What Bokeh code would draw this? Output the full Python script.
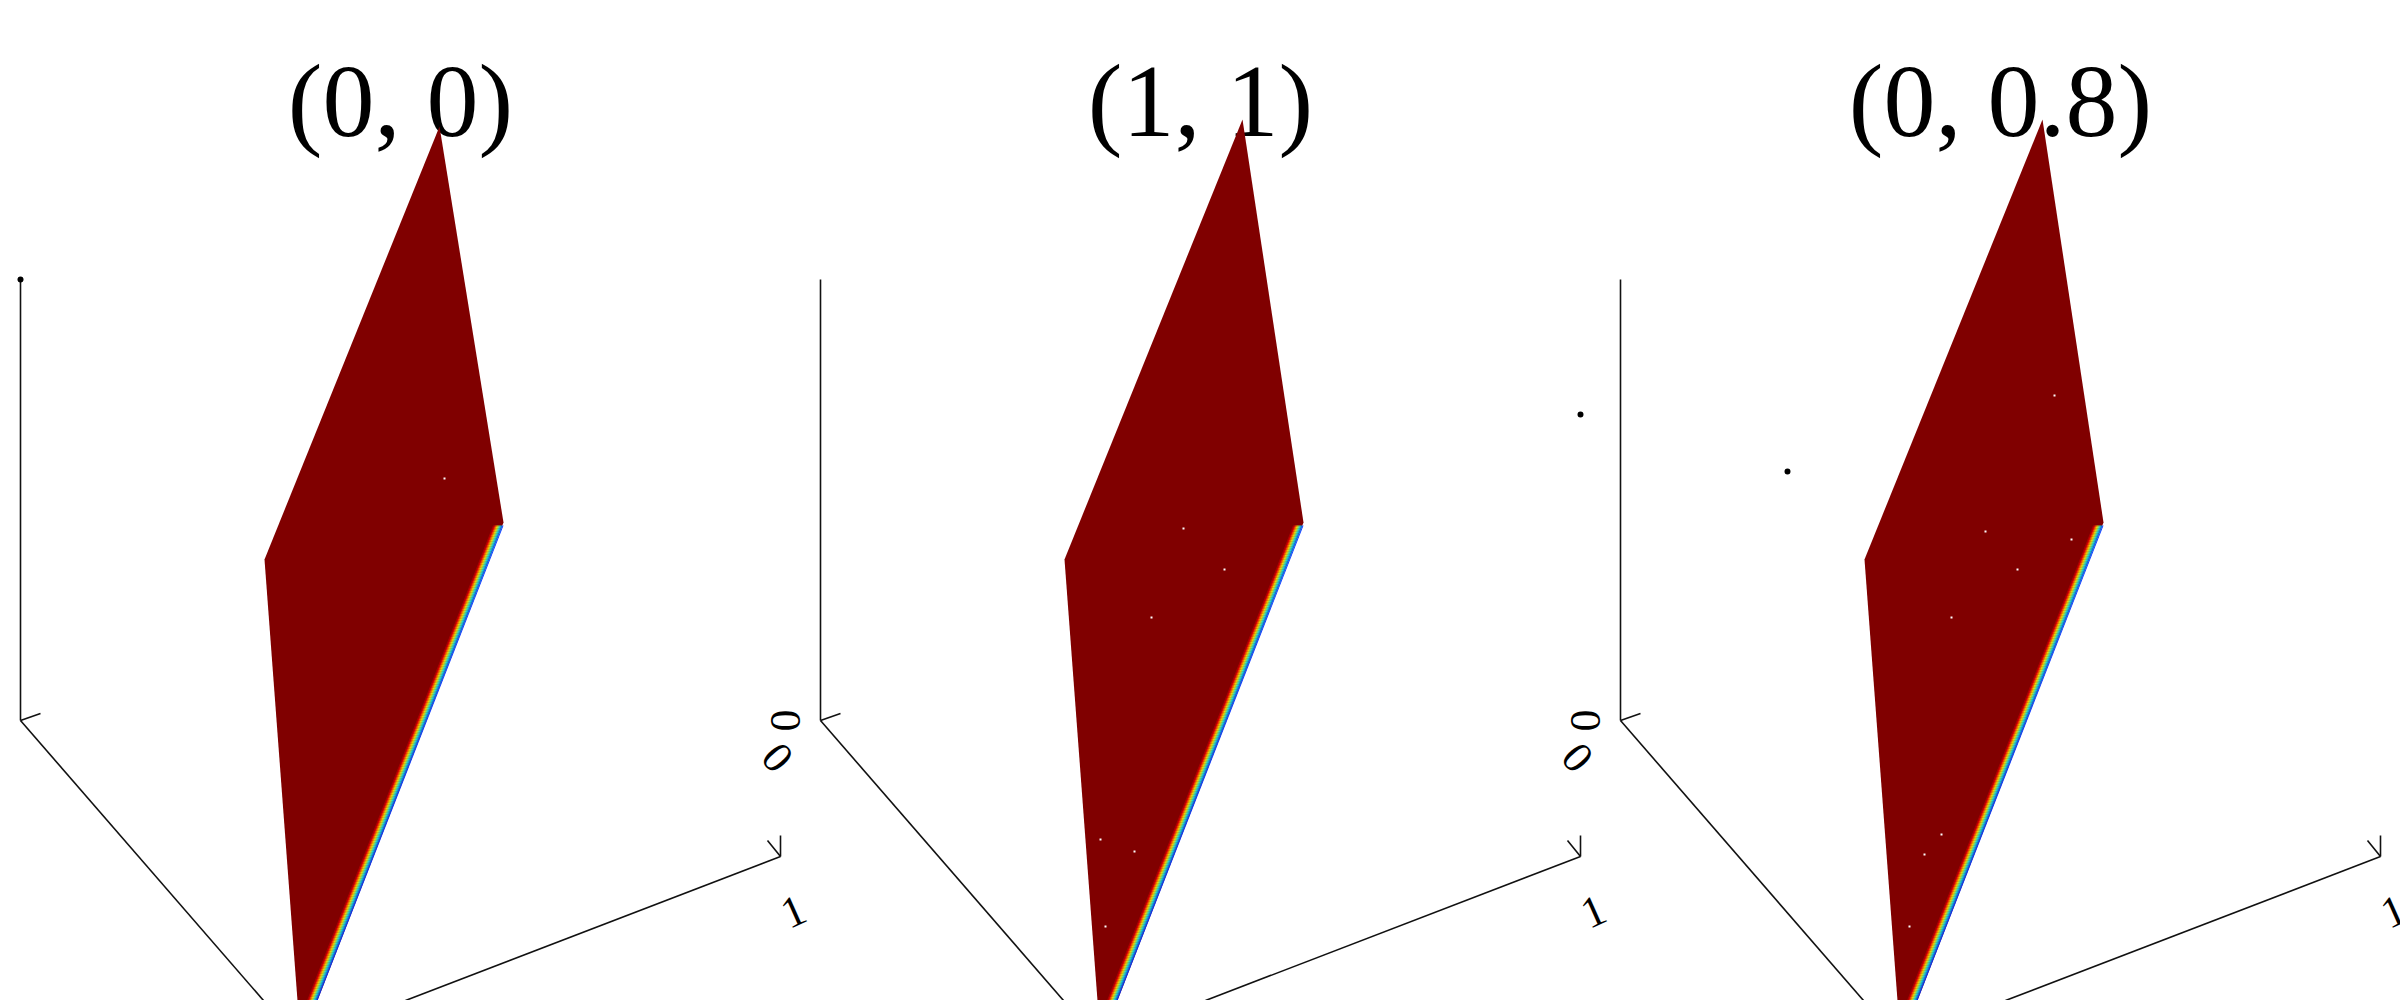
import math
from bokeh.plotting import figure
from bokeh.models import Range1d
from bokeh.core.properties import value
from bokeh.embed import file_html
from bokeh.resources import INLINE

# ---------------- data ----------------
PANEL_TITLES = ["(0, 0)", "(1, 1)", "(0, 0.8)"]
PANEL_W = 800

# projected surface outline (panel-local screen units): apex, right, bottom-right, bottom-left, left
APEX_X = [439, 442, 442]
APEX_Y = [126, 119, 119]
SURF_X_REST = [503, 317, 297, 264]
SURF_Y_REST = [522, 1000, 1000, 559]

# edge fall-off band colours (jet colormap), outer -> inner
STRIP_COLORS = ["#0030ff", "#0070ff", "#00b8ff", "#10f0f0", "#60ffa0",
                "#b0ff50", "#ffee00", "#ffa000", "#ff5000", "#e80000", "#b00000"]

# axis frame segments (panel-local): x0, y0, x1, y1
AX_X0 = [20, 20, 20, 405, 780, 767]
AX_Y0 = [279, 720, 720, 1000, 856, 840]
AX_X1 = [20, 40, 263, 780, 780, 780]
AX_Y1 = [720, 713, 1000, 856, 835, 856]

# tick labels (panel-local); the "0" labels sit left of each panel's vertical axis
LBL_TEXT = ["0", "0", "1"]
LBL_X = [-15, -23, 793]
LBL_Y = [720, 757, 911]
LBL_ANGLE = [math.pi / 2, -0.87, 0.42]

# scattered points (global)
DOT_X = [20, 1580, 1787]
DOT_Y = [279, 414, 471]

# white specks on the surfaces (global)
SPECK_X = [444, 1183, 1224, 1151, 1100, 1134, 1105, 2054, 1985, 2071, 2017, 1951, 1941, 1924, 1909]
SPECK_Y = [478, 528, 569, 617, 839, 851, 926, 395, 531, 539, 569, 617, 834, 854, 926]

# ---------------- figure ----------------
p = figure(width=2400, height=1000, output_backend="svg", toolbar_location=None,
           x_range=Range1d(0, 2400), y_range=Range1d(1000, 0),
           min_border=0, background_fill_color="white", border_fill_color="white")
p.axis.visible = False
p.grid.visible = False
p.outline_line_color = None

# titles
tx = [PANEL_W * i + 400 for i in range(3)]
ty = [100] * 3
p.text(x=tx, y=ty, text=PANEL_TITLES, text_font=value("Liberation Serif"),
       text_font_size=value("104px"), text_align="center", text_baseline="middle",
       text_color="black")

# surfaces
xs, ys = [], []
for i in range(3):
    off = PANEL_W * i
    xs.append([APEX_X[i] + off] + [v + off for v in SURF_X_REST])
    ys.append([APEX_Y[i]] + SURF_Y_REST)
p.patches(xs, ys, fill_color="#800000", line_color=None)

# colour strip along lower-right edge
bw = 0.95
bxs, bys, bcol = [], [], []
rx, ry = SURF_X_REST[0], SURF_Y_REST[0]
bx_, by_ = SURF_X_REST[1], SURF_Y_REST[1]
for i in range(3):
    off = PANEL_W * i
    for k, c in enumerate(STRIP_COLORS):
        s0, s1 = k * bw, (k + 1) * bw
        bxs.append([rx + off - s0, rx + off - s1, bx_ + off - s1, bx_ + off - s0])
        bys.append([ry + 3, ry + 3, by_, by_])
        bcol.append(c)
p.patches(bxs, bys, fill_color=bcol, line_color=None)

# specks
p.rect(x=SPECK_X, y=SPECK_Y, width=2, height=2, fill_color="white", line_color=None)

# axis frames
sx0, sy0, sx1, sy1 = [], [], [], []
for i in range(3):
    off = PANEL_W * i
    sx0 += [v + off for v in AX_X0]
    sx1 += [v + off for v in AX_X1]
    sy0 += AX_Y0
    sy1 += AX_Y1
p.segment(x0=sx0, y0=sy0, x1=sx1, y1=sy1, line_color="#111111", line_width=1.6)

# tick labels (skip those that fall outside the canvas on the left)
lx, ly, lt, la = [], [], [], []
for i in range(3):
    off = PANEL_W * i
    for t, x, y, a in zip(LBL_TEXT, LBL_X, LBL_Y, LBL_ANGLE):
        if x + off < 0:
            continue
        lx.append(x + off)
        ly.append(y)
        lt.append(t)
        la.append(a)
p.text(x=lx, y=ly, text=lt, angle=la, text_font=value("Liberation Serif"),
       text_font_size=value("44px"), text_align="center", text_baseline="middle",
       text_color="black")

# dots
p.scatter(x=DOT_X, y=DOT_Y, size=6, fill_color="black", line_color=None)

open("out.html", "w").write(file_html(p, INLINE))
